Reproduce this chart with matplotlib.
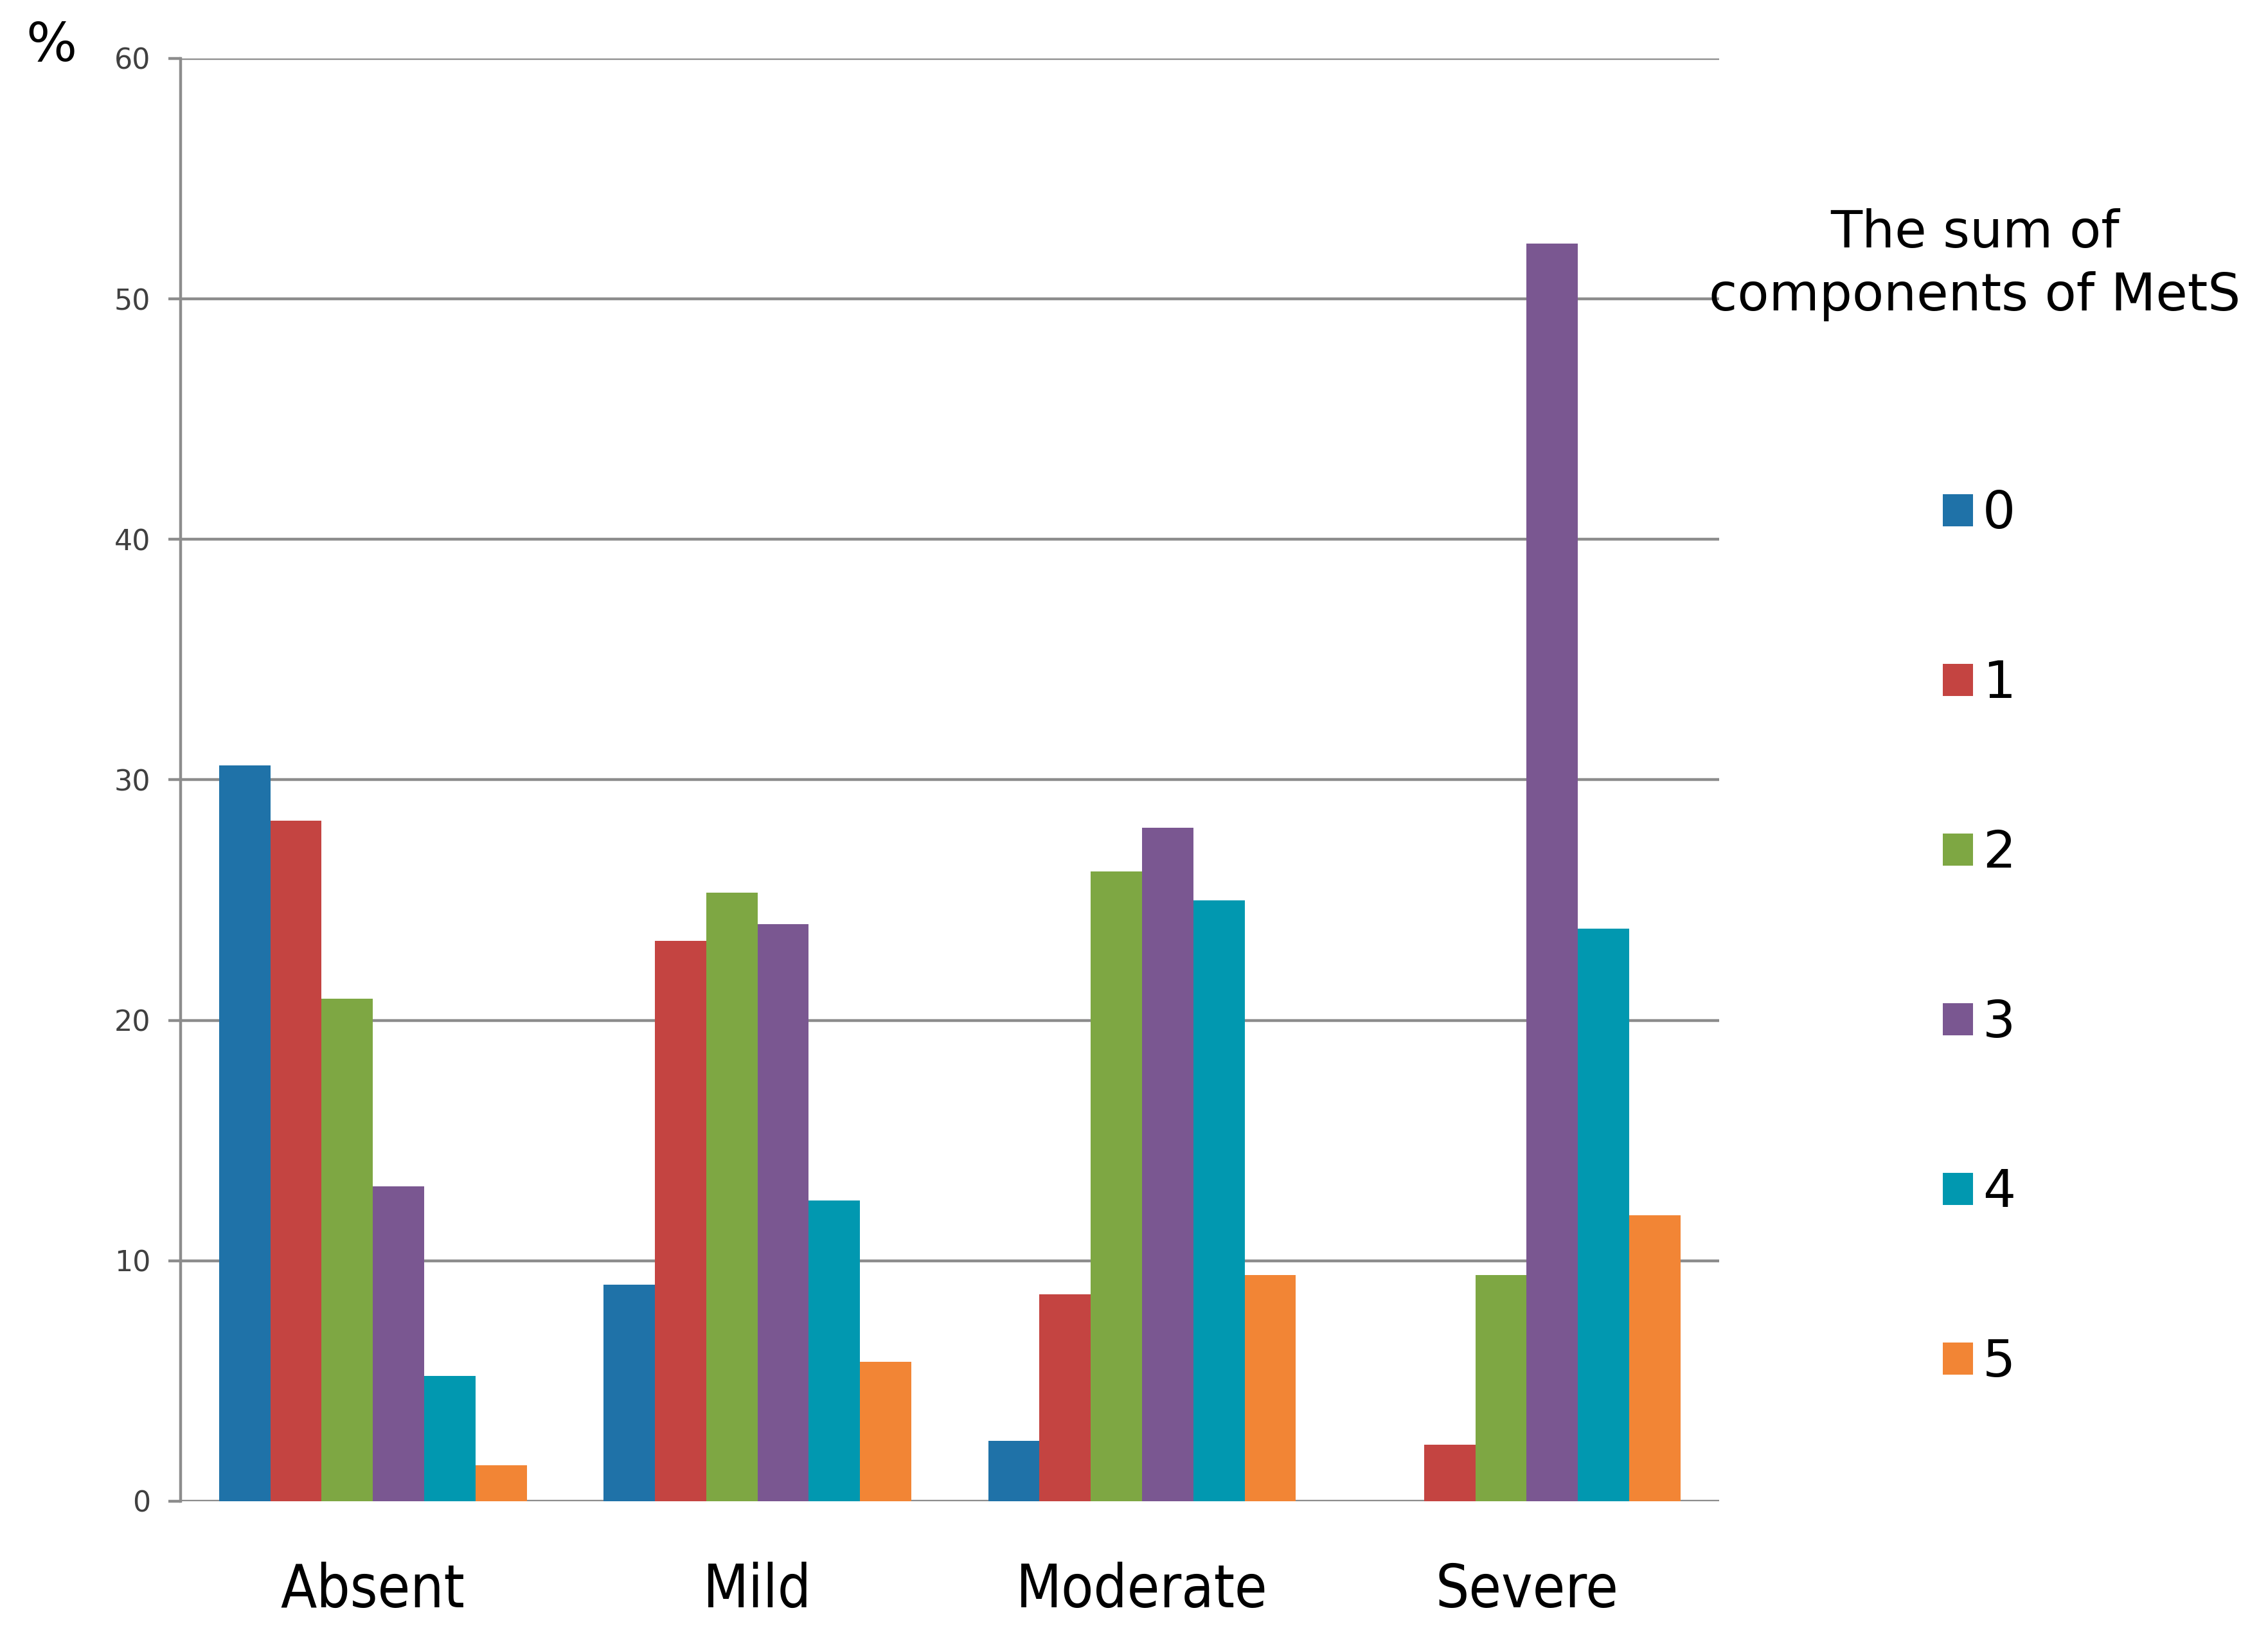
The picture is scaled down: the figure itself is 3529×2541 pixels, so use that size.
import matplotlib
matplotlib.use("Agg")
import matplotlib.pyplot as plt
import numpy as np

# Severidade x soma dos componentes da síndrome metabólica (%)
categorias = ["Absent", "Mild", "Moderate", "Severe"]
componentes = ["0", "1", "2", "3", "4", "5"]

comp_0 = [30.6, 9.0, 2.5, 0.0]
comp_1 = [28.3, 23.3, 8.6, 2.35]
comp_2 = [20.9, 25.3, 26.2, 9.4]
comp_3 = [13.1, 24.0, 28.0, 52.3]
comp_4 = [5.2, 12.5, 25.0, 23.8]
comp_5 = [1.5, 5.8, 9.4, 11.9]

cores = ["#1f72a8", "#c44441", "#7ea743", "#7a5791", "#0198b0", "#f28535"]
series = [comp_0, comp_1, comp_2, comp_3, comp_4, comp_5]

GRID = "#8c8c8c"

fig = plt.figure(figsize=(17.65, 12.705), dpi=200)
ax = fig.add_axes([0.0796, 0.0807, 0.6781, 0.8835])

x = np.arange(len(categorias))
largura = 0.8 / len(series)
handles = []
for i, (vals, cor, nome) in enumerate(zip(series, cores, componentes)):
    h = ax.bar(x + (i - 2.5) * largura, vals, width=largura, color=cor,
               label=nome, zorder=3)
    handles.append(h)

ax.set_xlim(-0.5, len(categorias) - 0.5)
ax.set_ylim(0, 60)
ax.set_yticks(np.arange(0, 61, 10))
ax.yaxis.grid(True, color=GRID, lw=1.6, zorder=0)
ax.set_axisbelow(True)

for lado in ["top", "right", "bottom"]:
    ax.spines[lado].set_visible(False)
ax.spines["left"].set_color(GRID)
ax.spines["left"].set_linewidth(1.6)

ax.tick_params(axis="y", length=6.8, width=1.6, color=GRID, pad=10,
               labelsize=16, labelcolor="#404040")
ax.tick_params(axis="x", length=0, pad=34)
ax.set_xticks(x)
ax.set_xticklabels(categorias, fontsize=33, fontstretch="condensed")

fig.text(0.0227, 0.9717, "%", fontsize=30, ha="center", va="center")

# legenda: título separado para reproduzir o espaço grande até os itens
fig.text(0.8705, 0.838, "The sum of\ncomponents of MetS", fontsize=29,
         ha="center", va="center", multialignment="center", linespacing=1.33)
fig.legend(handles=handles, loc="upper left", bbox_to_anchor=(0.8565, 0.7005),
           frameon=False, fontsize=29, handlelength=0.58, handleheight=0.58,
           handletextpad=0.18, labelspacing=2.31, borderpad=0, borderaxespad=0)

fig.savefig("out.png", dpi=200)
